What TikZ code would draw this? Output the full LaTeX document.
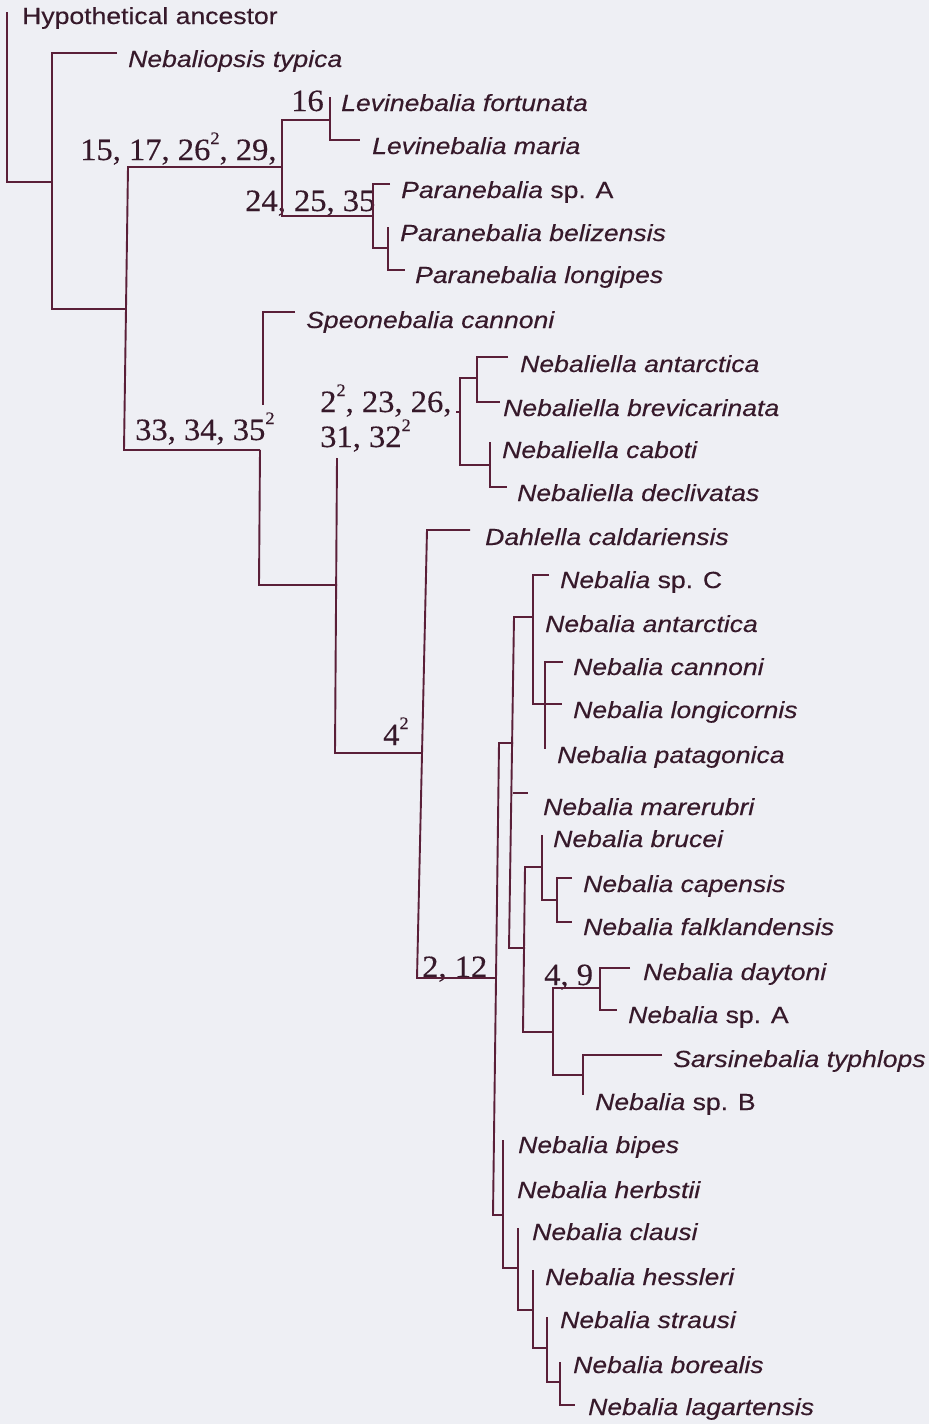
\documentclass[tikz,border=0pt]{standalone}
\usepackage{fontspec}
\newfontfamily\labfont[FakeStretch=1.14,FakeBold=0.35]{Liberation Sans}
\newfontfamily\numfont[FakeStretch=1.05,FakeBold=0.3]{Liberation Serif}
\definecolor{bgc}{HTML}{EEEFF4}
\definecolor{brc}{HTML}{5A1F38}
\definecolor{txc}{HTML}{36192A}
\newcommand\sqr{\raisebox{16pt}{\fontsize{17.5}{17.5}\selectfont 2}}
\begin{document}
\begin{tikzpicture}[x=1pt,y=-1pt,
  taxon/.style={anchor=base west, inner sep=0pt, text=txc, font=\labfont\fontsize{23.3}{28}\selectfont},
  numlab/.style={anchor=base west, inner sep=0pt, text=txc, font=\numfont\fontsize{31}{36}\selectfont},
  branch/.style={draw=brc, line width=1.9pt, line cap=butt, line join=miter}]
\fill[bgc] (0,0) rectangle (929,1424);
\useasboundingbox (0,0) rectangle (929,1424);

% ---------- taxa ----------
\node[taxon] (t0)  at (22,24)   {Hypothetical ancestor};
\node[taxon] (t1)  at (128,67)  {\itshape Nebaliopsis typica};
\node[taxon] (t2)  at (341,111) {\itshape Levinebalia fortunata};
\node[taxon] (t3)  at (372,154) {\itshape Levinebalia maria};
\node[taxon] (t4)  at (401,198) {\itshape Paranebalia\upshape\ sp. A};
\node[taxon] (t5)  at (400,241) {\itshape Paranebalia belizensis};
\node[taxon] (t6)  at (415,283) {\itshape Paranebalia longipes};
\node[taxon] (t7)  at (306,328) {\itshape Speonebalia cannoni};
\node[taxon] (t8)  at (520,372) {\itshape Nebaliella antarctica};
\node[taxon] (t9)  at (503,416) {\itshape Nebaliella brevicarinata};
\node[taxon] (t10) at (502,458) {\itshape Nebaliella caboti};
\node[taxon] (t11) at (517,501) {\itshape Nebaliella declivatas};
\node[taxon] (t12) at (485,545) {\itshape Dahlella caldariensis};
\node[taxon] (t13) at (560,588) {\itshape Nebalia\upshape\ sp. C};
\node[taxon] (t14) at (545,632) {\itshape Nebalia antarctica};
\node[taxon] (t15) at (573,675) {\itshape Nebalia cannoni};
\node[taxon] (t16) at (573,718) {\itshape Nebalia longicornis};
\node[taxon] (t17) at (557,763) {\itshape Nebalia patagonica};
\node[taxon] (t18) at (543,815) {\itshape Nebalia marerubri};
\node[taxon] (t19) at (553,847) {\itshape Nebalia brucei};
\node[taxon] (t20) at (583,892) {\itshape Nebalia capensis};
\node[taxon] (t21) at (583,935) {\itshape Nebalia falklandensis};
\node[taxon] (t22) at (643,980) {\itshape Nebalia daytoni};
\node[taxon] (t23) at (628,1023) {\itshape Nebalia\upshape\ sp. A};
\node[taxon] (t24) at (673,1067) {\itshape Sarsinebalia typhlops};
\node[taxon] (t25) at (595,1110) {\itshape Nebalia\upshape\ sp. B};
\node[taxon] (t26) at (518,1153) {\itshape Nebalia bipes};
\node[taxon] (t27) at (517,1198) {\itshape Nebalia herbstii};
\node[taxon] (t28) at (532,1240) {\itshape Nebalia clausi};
\node[taxon] (t29) at (545,1285) {\itshape Nebalia hessleri};
\node[taxon] (t30) at (560,1328) {\itshape Nebalia strausi};
\node[taxon] (t31) at (573,1373) {\itshape Nebalia borealis};
\node[taxon] (t32) at (588,1415) {\itshape Nebalia lagartensis};

% ---------- character labels ----------
\node[numlab] (c1) at (80,160)  {15, 17, 26\sqr, 29,};
\node[numlab] (c2) at (291,111) {16};
\node[numlab] (c3) at (245,211) {24, 25, 35};
\node[numlab] (c4) at (135,440) {33, 34, 35\sqr};
\node[numlab] (c5) at (320,412) {2\sqr, 23, 26,};
\node[numlab] (c6) at (320,447) {31, 32\sqr};
\node[numlab] (c7) at (383,745) {4\sqr};
\node[numlab] (c8) at (422,977) {2, 12};
\node[numlab] (c9) at (544,985) {4, 9};

% ---------- junction coordinates ----------
\coordinate (rootT) at (7,12);
\coordinate (rootB) at (7,182);
\coordinate (aM) at (52,182);
\coordinate (aT) at (52,53);
\coordinate (aB) at (52,309);
\coordinate (typE) at (117,53);
\coordinate (bM) at (126,309);
\coordinate (bT) at (128,167);
\coordinate (bB) at (124,450);
\coordinate (cM) at (282,167);
\coordinate (cT) at (282,120);
\coordinate (cB) at (282,216);
\coordinate (levM) at (330,120);
\coordinate (levT) at (330,97);
\coordinate (levB) at (330,140);
\coordinate (marE) at (360,140);
\coordinate (parM) at (373,216);
\coordinate (parT) at (373,184);
\coordinate (parB) at (373,248);
\coordinate (spaE) at (390,184);
\coordinate (par2M) at (388,248);
\coordinate (par2T) at (388,227);
\coordinate (par2B) at (388,270);
\coordinate (lonE) at (405,270);
\coordinate (dM) at (260,450);
\coordinate (dT) at (263,312);
\coordinate (dG) at (263,405);
\coordinate (speE) at (295,312);
\coordinate (dB) at (259,585);
\coordinate (eM) at (337,585);
\coordinate (eT) at (337,458);
\coordinate (eB) at (335,753);
\coordinate (nelS) at (456,412);
\coordinate (nelM) at (460,412);
\coordinate (nelT) at (460,378);
\coordinate (nelB) at (460,465);
\coordinate (ne1M) at (477,378);
\coordinate (ne1T) at (477,357);
\coordinate (ne1B) at (477,402);
\coordinate (antE) at (508,357);
\coordinate (breE) at (500,402);
\coordinate (ne2M) at (490,465);
\coordinate (ne2T) at (490,442);
\coordinate (ne2B) at (490,487);
\coordinate (decE) at (507,487);
\coordinate (fM) at (422,753);
\coordinate (fT) at (427,530);
\coordinate (fB) at (417,978);
\coordinate (dahE) at (470,530);
\coordinate (gM) at (495,978);
\coordinate (gT) at (499,743);
\coordinate (gB) at (493,1215);
\coordinate (hM) at (513,743);
\coordinate (hT) at (514,617);
\coordinate (hB) at (509,948);
\coordinate (hK) at (513,793);
\coordinate (mreE) at (528,793);
\coordinate (iM) at (533,617);
\coordinate (iT) at (533,575);
\coordinate (iB) at (533,704);
\coordinate (spcE) at (549,575);
\coordinate (lgcE) at (562,704);
\coordinate (jT) at (545,662);
\coordinate (jB) at (545,749);
\coordinate (canE) at (563,662);
\coordinate (kM) at (525,948);
\coordinate (kT) at (525,867);
\coordinate (kB) at (523,1032);
\coordinate (lM) at (542,867);
\coordinate (lT) at (542,835);
\coordinate (lB) at (542,900);
\coordinate (mM) at (557,900);
\coordinate (mT) at (557,878);
\coordinate (mB) at (557,922);
\coordinate (capE) at (572,878);
\coordinate (falE) at (572,922);
\coordinate (nM) at (553,1032);
\coordinate (nT) at (553,988);
\coordinate (nB) at (553,1075);
\coordinate (oM) at (600,988);
\coordinate (oT) at (600,968);
\coordinate (oB) at (600,1010);
\coordinate (dayE) at (630,968);
\coordinate (spAE) at (617,1010);
\coordinate (pM) at (583,1075);
\coordinate (pT) at (583,1055);
\coordinate (pB) at (583,1095);
\coordinate (sarE) at (662,1055);
\coordinate (qM) at (503,1215);
\coordinate (qT) at (503,1140);
\coordinate (qB) at (503,1268);
\coordinate (rM) at (518,1268);
\coordinate (rT) at (518,1228);
\coordinate (rB) at (518,1310);
\coordinate (sM) at (533,1310);
\coordinate (sT) at (533,1270);
\coordinate (sB) at (533,1348);
\coordinate (uM) at (547,1348);
\coordinate (uT) at (547,1317);
\coordinate (uB) at (547,1382);
\coordinate (vM) at (560,1382);
\coordinate (vT) at (560,1362);
\coordinate (vB) at (560,1405);
\coordinate (lagE) at (575,1405);

% ---------- branches ----------
\draw[branch] (rootT) -- (rootB) -- (aM);
\draw[branch] (typE) -- (aT) -- (aB) -- (bM);
\draw[branch] (cM) -- (bT) -- (bB) -- (dM);
\draw[branch] (levM) -- (cT) -- (cB) -- (parM);
\draw[branch] (levT) -- (levB) -- (marE);
\draw[branch] (spaE) -- (parT) -- (parB) -- (par2M);
\draw[branch] (par2T) -- (par2B) -- (lonE);
\draw[branch] (speE) -- (dT) -- (dG);
\draw[branch] (dM) -- (dB) -- (eM);
\draw[branch] (eT) -- (eB) -- (fM);
\draw[branch] (nelS) -- (nelM);
\draw[branch] (ne1M) -- (nelT) -- (nelB) -- (ne2M);
\draw[branch] (antE) -- (ne1T) -- (ne1B) -- (breE);
\draw[branch] (ne2T) -- (ne2B) -- (decE);
\draw[branch] (dahE) -- (fT) -- (fB) -- (gM);
\draw[branch] (hM) -- (gT) -- (gB) -- (qM);
\draw[branch] (iM) -- (hT) -- (hB) -- (kM);
\draw[branch] (hK) -- (mreE);
\draw[branch] (spcE) -- (iT) -- (iB) -- (lgcE);
\draw[branch] (canE) -- (jT) -- (jB);
\draw[branch] (lM) -- (kT) -- (kB) -- (nM);
\draw[branch] (lT) -- (lB) -- (mM);
\draw[branch] (capE) -- (mT) -- (mB) -- (falE);
\draw[branch] (oM) -- (nT) -- (nB) -- (pM);
\draw[branch] (dayE) -- (oT) -- (oB) -- (spAE);
\draw[branch] (sarE) -- (pT) -- (pB);
\draw[branch] (qT) -- (qB) -- (rM);
\draw[branch] (rT) -- (rB) -- (sM);
\draw[branch] (sT) -- (sB) -- (uM);
\draw[branch] (uT) -- (uB) -- (vM);
\draw[branch] (vT) -- (vB) -- (lagE);
\end{tikzpicture}
\end{document}
